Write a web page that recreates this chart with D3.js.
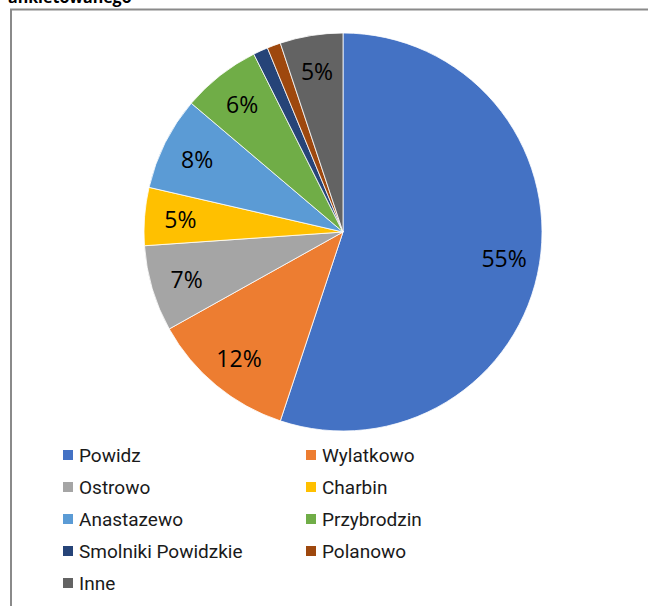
<!DOCTYPE html>
<html><head><meta charset="utf-8">
<script src="https://cdn.jsdelivr.net/npm/d3@7"></script>
<style>html,body{margin:0;padding:0;background:#fff;}svg{display:block;}</style>
</head><body>
<svg id="c" width="648" height="606"></svg>
<script>
const categories = ["Powidz","Wylatkowo","Ostrowo","Charbin","Anastazewo","Przybrodzin","Smolniki Powidzkie","Polanowo","Inne"];
const values = [55.1, 11.8, 7.0, 4.7, 7.6, 6.4, 1.2, 1.1, 5.1];
const labels = ["55%","12%","7%","5%","8%","6%","","","5%"];
const colors = ["#4472C4","#ED7D31","#A5A5A5","#FFC000","#5B9BD5","#70AD47","#264478","#9E480E","#636363"];
const titleText = "ankietowanego";

const svg = d3.select("#c");
svg.append("rect").attr("x",0).attr("y",0).attr("width",648).attr("height",606).attr("fill","#fff");
// border
svg.append("path").attr("d","M11,620 L11,9.5 L660,9.5").attr("fill","none").attr("stroke","#8a8a8a").attr("stroke-width",2);
svg.append("text").attr("x",8).attr("y",3).attr("font-family","'Open Sans',sans-serif").attr("font-weight","bold")
  .attr("font-size",16).attr("fill","#000").text(titleText);

const cx=343, cy=232, R=199;
const pie = d3.pie().sort(null).value(d=>d);
const arcs = pie(values);
const arc = d3.arc().innerRadius(0).outerRadius(R);
const labelArc = d3.arc().innerRadius(R*0.82).outerRadius(R*0.82);
const g = svg.append("g").attr("transform",`translate(${cx},${cy})`);
g.selectAll("path").data(arcs).join("path").attr("d",arc)
  .attr("fill",(d,i)=>colors[i]).attr("stroke","#fff").attr("stroke-width",0.8);
g.selectAll("text").data(arcs).join("text")
  .attr("transform",d=>`translate(${labelArc.centroid(d)})`)
  .attr("text-anchor","middle").attr("dominant-baseline","central")
  .attr("font-family","'Open Sans',sans-serif").attr("font-size",23).attr("fill","#000")
  .text((d,i)=>labels[i]);

// legend
const colX=[63,306], rowY0=455, rowH=32;
const lg = svg.append("g");
categories.forEach((c,i)=>{
  const x=colX[i%2], y=rowY0+Math.floor(i/2)*rowH;
  lg.append("rect").attr("x",x).attr("y",y-5).attr("width",10).attr("height",10).attr("fill",colors[i]);
  lg.append("text").attr("x",x+16).attr("y",y).attr("dominant-baseline","central")
    .attr("font-family","Roboto,sans-serif").attr("font-size",19).attr("fill","#1a1a1a").text(c);
});
</script>
</body></html>
